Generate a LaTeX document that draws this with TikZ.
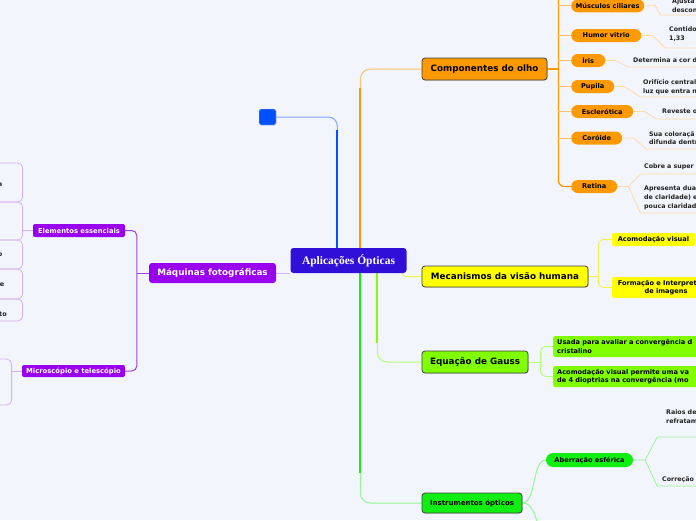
\documentclass[tikz,border=0pt]{standalone}
\usepackage{fontspec}
\setmainfont{DejaVu Sans}
\newfontfamily\serifb{Liberation Serif}
\usetikzlibrary{calc,shadows}
\pgfdeclarelayer{back}
\pgfsetlayers{back,main}
\definecolor{bg}{HTML}{F3F5FD}
\definecolor{rootc}{HTML}{3010D8}
\definecolor{bluec}{HTML}{0050FF}
\definecolor{orc}{HTML}{FF9900}
\definecolor{orl}{HTML}{FFC070}
\definecolor{orul}{HTML}{FFD9A6}
\definecolor{yec}{HTML}{FFFF00}
\definecolor{yel}{HTML}{F2F24A}
\definecolor{limc}{HTML}{80FF00}
\definecolor{liml}{HTML}{B4FF78}
\definecolor{grc}{HTML}{11EE11}
\definecolor{grl}{HTML}{96F596}
\definecolor{puc}{HTML}{9900EE}
\definecolor{pum}{HTML}{A040E0}
\definecolor{pul}{HTML}{D8B0F2}
\definecolor{txt}{HTML}{222222}
\tikzset{
 rootbox/.style={fill=rootc, rounded corners=3pt, text=white, font=\serifb\bfseries\fontsize{11.5}{13}\selectfont, minimum width=116pt, minimum height=25pt, inner sep=0pt},
 lvlone/.style={draw=black!75, line width=0.8pt, rounded corners=3pt, font=\bfseries\fontsize{8.8}{10}\selectfont, text=black, inner sep=0pt, drop shadow={opacity=0.25,shadow xshift=0.8pt,shadow yshift=-0.8pt}},
 purbox/.style={fill=puc, rounded corners=2pt, text=white, font=\bfseries\fontsize{6.8}{8}\selectfont, inner sep=0pt},
 pill/.style={fill=orc, rounded corners=6.5pt, minimum height=13pt, inner sep=0pt, font=\bfseries\fontsize{6.6}{8}\selectfont, text=black, anchor=west},
 subbox/.style={rounded corners=2pt, inner sep=0pt, font=\bfseries\fontsize{6.6}{8.5}\selectfont, text=black},
 leaf/.style={font=\bfseries\fontsize{6.3}{8.8}\selectfont, text=txt, inner sep=0pt, align=left, anchor=north west},
 frag/.style={font=\bfseries\fontsize{6.5}{8}\selectfont, text=txt, inner sep=0pt, anchor=east},
 outl/.style={draw=pul, line width=0.8pt, rounded corners=5pt, minimum width=100pt, inner sep=0pt, anchor=east},
 thick/.style={line width=1.8pt},
 thin/.style={line width=1pt},
 uline/.style={line width=0.8pt},
}
\begin{document}
\begin{tikzpicture}[x=1pt,y=-1pt]
\useasboundingbox (0,0) rectangle (696,520);
% root and blue square
\node[rootbox] (root) at (348.5,260.5) {Aplicações Ópticas};
\node[draw=black!15, fill=bluec, rounded corners=2pt, minimum width=17pt, minimum height=16pt, inner sep=0pt, drop shadow={opacity=0.2,shadow xshift=0.6pt,shadow yshift=-0.6pt}] (sq) at (267.5,117) {};
% level one
\node[lvlone, fill=orc, minimum width=125pt, minimum height=22pt] (comp) at (484.5,69) {Componentes do olho};
\node[lvlone, fill=yec, minimum width=166pt, minimum height=21pt] (mec) at (505,276.5) {Mecanismos da visão humana};
\node[lvlone, fill=limc, minimum width=106pt, minimum height=22pt] (gauss) at (475,362) {Equação de Gauss};
\node[lvlone, fill=grc, minimum width=100pt, minimum height=20pt, font=\bfseries\fontsize{7}{8}\selectfont] (instr) at (472,503) {Instrumentos ópticos};
\node[purbox, rounded corners=3pt, minimum width=127pt, minimum height=20pt, font=\bfseries\fontsize{8.8}{10}\selectfont] (maq) at (212.5,273) {Máquinas fotográficas};
% purple subtopics
\node[purbox, minimum width=92pt, minimum height=13pt] (elem) at (79,230.5) {Elementos essenciais};
\node[purbox, minimum width=103pt, minimum height=12pt] (micro) at (73.5,371) {Microscópio e telescópio};
\node[outl, minimum height=39pt] (e1) at (23,182.5) {};
\node[outl, minimum height=38pt] (e2) at (23,221) {};
\node[outl, minimum height=29pt] (e3) at (23,254.5) {};
\node[outl, minimum height=30pt] (e4) at (23,284) {};
\node[outl, minimum height=22pt] (e5) at (23,310) {};
\node[outl, minimum height=46pt] (m1) at (12,382) {};
\node[frag] (e1t) at (2.5,185) {a};
\node[frag] (e3t) at (2.5,255) {o};
\node[frag] (e4t) at (4.5,285) {e};
\node[frag] (e5t) at (7,314) {to};
% orange children
\node[pill, minimum width=73pt] (mus) at (571,5.8) {Músculos ciliares};
\node[pill, minimum width=70pt] (hum) at (571,35.5) {Humor vitrio};
\node[pill, minimum width=34pt] (iris) at (571,60.5) {Íris};
\node[pill, minimum width=43pt] (pup) at (571,86.5) {Pupila};
\node[pill, minimum width=62pt] (esc) at (571,111.5) {Esclerótica};
\node[pill, minimum width=51pt] (cor) at (571,138) {Coróide};
\node[pill, minimum width=46pt] (ret) at (571,186.5) {Retina};
% leaves of orange children
\node[leaf] (musT) at (672,-1.5) {Ajusta\\descon};
\node[leaf] (humT) at (669,27) {Contido\\1,33};
\node[leaf] (irisT) at (633,58) {Determina a cor d};
\node[leaf] (pupT) at (643,79) {Orifício central\\luz que entra n};
\node[leaf] (escT) at (662,109) {Reveste o};
\node[leaf] (corT) at (649,131) {Sua coloraçã\\difunda dentr};
\node[leaf] (retT1) at (644,164) {Cobre a super};
\node[leaf] (retT2) at (644,186) {Apresenta dua\\de claridade) e\\pouca claridad};
% yellow children
\node[subbox, fill=yec, minimum width=83pt, minimum height=13pt] (aco) at (653.5,239.5) {Acomodação visual};
\node[subbox, fill=yec, minimum width=108pt, minimum height=21pt, align=center] (form) at (666,287.5) {Formação e Interpretação\\de imagens};
% lime children
\node[subbox, fill=limc, text width=212pt, inner xsep=4pt, minimum height=21pt, align=left, anchor=west] (g1) at (553,346.5) {Usada para avaliar a convergência d\\cristalino};
\node[subbox, fill=limc, text width=212pt, inner xsep=4pt, minimum height=21pt, align=left, anchor=west] (g2) at (553,376.5) {Acomodação visual permite uma va\\de 4 dioptrias na convergência (mo};
% green children
\node[pill, fill=grc, minimum width=87pt, minimum height=14pt, rounded corners=7pt, anchor=center] (ab) at (589.5,460) {Aberração esférica};
\node[leaf] (abT1) at (666,410) {Raios de\\refratam};
\node[leaf] (abT2) at (662,476) {Correção};
\coordinate (gdown) at (545,540);

\begin{pgfonlayer}{back}
\fill[bg] (0,0) rectangle (696,520);
% blue
\draw[bluec!50, thin, rounded corners=9pt] (sq.east) -| ($(root.north west)+(47,0)$);
\draw[bluec, thick] ($(root.north west)+(47,0)$) -- ++(0,-118);
% orange
\draw[orl, thin, rounded corners=10pt] (comp.west) -| ($(root.north west)+(70,0)$);
\draw[orc, thick] ($(root.north west)+(70,0)$) -- ++(0,-160);
% yellow
\draw[yel, thin, rounded corners=3pt] ($(root.south east)+(-4,0)$) |- (mec.west);
% lime
\draw[liml, thin, rounded corners=10pt] ($(root.south west)+(87,0)$) |- (gauss.west);
\draw[limc, thick] ($(root.south west)+(87,0)$) -- ++(0,70);
% green
\draw[grl, thin, rounded corners=10pt] ($(root.south west)+(70,0)$) |- (instr.west);
\draw[grc, thick] ($(root.south west)+(70,0)$) -- ++(0,200);
% purple
\draw[pul, thin] (maq.east) -- (maq.east -| root.west);
\coordinate (mj) at ($(maq.west)+(-12,0)$);
\draw[pum, thin] (maq.west) -- (mj);
\draw[pum, thin, rounded corners=5pt] (elem.east) -| (mj) |- (micro.east);
\draw[pul, uline] (elem.west) -- (elem.west -| e2.east);
\draw[pul, uline] (micro.west) -- (micro.west -| m1.east);
% orange bracket
\coordinate (oj) at ($(comp.east)+(11,0)$);
\draw[orc, line width=1.3pt] (comp.east) -- (oj);
\draw[orc, line width=1.3pt, rounded corners=6pt] ($(oj)+(0,-80)$) |- (ret.west);
\foreach \c in {mus,hum,iris,pup,esc,cor} \draw[orl, thin] (\c.west -| oj) -- (\c.west);
% orange leaves
\draw[orul, uline] (mus.east) -- ++(11,0) -- ++(5,9.2) -- ++(60,0);
\draw[orul, uline] (hum.east) -- ++(11,0) -- ++(13,12.5) -- ++(60,0);
\draw[orul, uline] (iris.east) -- ++(10,0) -- ++(13,6.5) -- ++(80,0);
\draw[orul, uline] (pup.east) -- ++(10,0) -- ++(16,10.5) -- ++(70,0);
\draw[orul, uline] (esc.east) -- ++(11,0) -- ++(12,7.5) -- ++(60,0);
\draw[orul, uline] (cor.east) -- ++(11,0) -- ++(13,11) -- ++(60,0);
\coordinate (rj) at ($(ret.east)+(11,0)$);
\draw[orul, uline] (ret.east) -- (rj) -- ++(12,-12.5) -- ++(70,0);
\draw[orul, uline] (rj) -- ++(12,26.5) -- ++(70,0);
% yellow bracket
\coordinate (yj) at ($(mec.east)+(10,0)$);
\draw[yel, thin] (mec.east) -- (yj);
\draw[yel, thin, rounded corners=6pt] (aco.west) -| (yj) |- (form.west);
% lime bracket
\coordinate (gj) at ($(gauss.east)+(12,0)$);
\draw[liml, thin] (gauss.east) -- (gj);
\draw[liml, thin, rounded corners=6pt] (g1.west) -| (gj) |- (g2.west);
% green curves
\draw[grl, thin] (instr.east) .. controls ($(instr.east)+(14,0)$) and ($(ab.west)+(-14,0)$) .. (ab.west);
\draw[grl, thin] (instr.east) .. controls ($(instr.east)+(14,0)$) and ($(gdown)+(-10,-15)$) .. (gdown);
\coordinate (aj) at ($(ab.east)+(12,0)$);
\draw[grl, uline] (ab.east) -- (aj) -- ++(12,-23) -- ++(60,0);
\draw[grl, uline] (aj) -- ++(12,26) -- ++(60,0);
\end{pgfonlayer}
\end{tikzpicture}
\end{document}
